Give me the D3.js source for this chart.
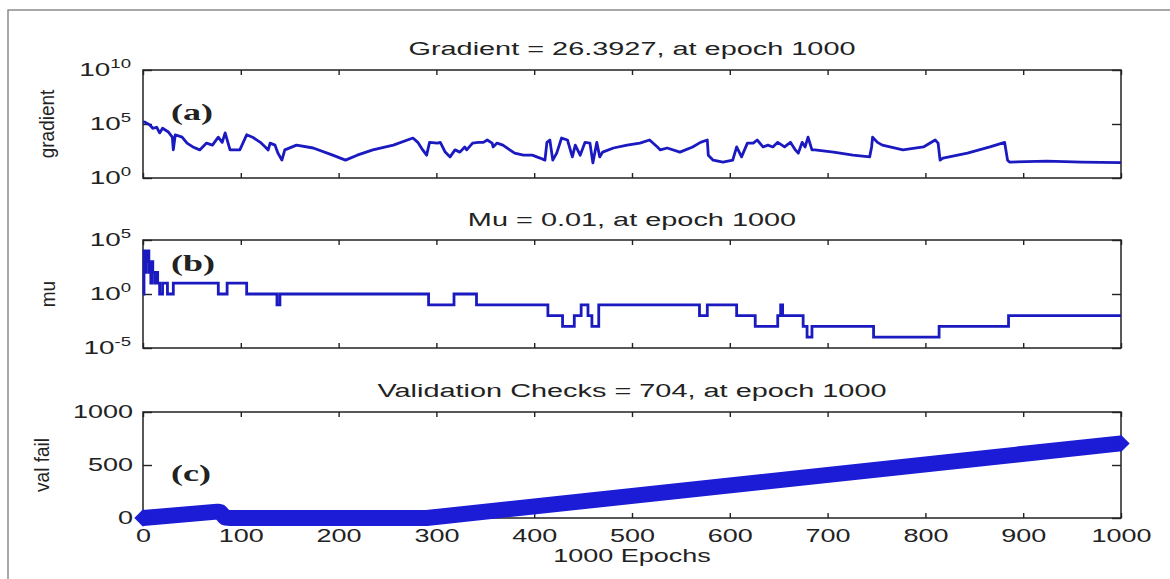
<!DOCTYPE html>
<html>
<head>
<meta charset="utf-8">
<script src="https://cdn.jsdelivr.net/npm/d3@7"></script>
<style>
body {margin:0; background:#fff;}
</style>
</head>
<body>
<script>
var titles = ['Gradient = 26.3927, at epoch 1000', 'Mu = 0.01, at epoch 1000', 'Validation Checks = 704, at epoch 1000'];
var yNames = ['gradient', 'mu', 'val fail'];
var tags = ['(a)', '(b)', '(c)'];
var xName = '1000 Epochs';
var xTicks = [0,100,200,300,400,500,600,700,800,900,1000];
var gradTicks = [1, 1e5, 1e10];
var muTicks = [1e-5, 1, 1e5];
var valTicks = [0, 500, 1000];

// [epoch, gradient]
var gradData = [[0,1.6e5],[2,1.5e5],[7,8e4],[10,4e4],[14,5e4],[17,1.5e4],[20,4e4],[26,1.8e4],[30,6e3],[31,400],[33,1e4],
	[40,6e3],[45,1.7e3],[51,750],[58,400],[65,1.7e3],[71,1.1e3],[77,6e3],[81,2e3],[84,1.5e4],[87,1.7e3],[89,400],[99,400],
	[106,1e4],[112,6e3],[120,2e3],[125,750],[128,400],[130,1.7e3],[135,1.1e3],[138,200],[142,45],[145,400],[157,1.1e3],
	[174,600],[194,130],[207,45],[219,130],[235,400],[256,1.1e3],[276,5e3],[281,2e3],[286,400],[290,130],[293,2e3],
	[301,1.7e3],[304,2e3],[309,250],[314,90],[319,400],[324,250],[329,750],[331,400],[337,1.7e3],[343,2e3],[348,2e3],
	[352,3.3e3],[357,1.7e3],[358,750],[362,1.7e3],[368,1.1e3],[375,400],[380,200],[389,130],[398,130],[406,70],[411,45],
	[413,2e3],[416,3.3e3],[419,45],[423,200],[428,5e3],[434,3.3e3],[439,90],[442,1.1e3],[447,130],[452,2e3],[457,1.7e3],
	[460,25],[464,2e3],[467,90],[470,250],[481,600],[495,1.1e3],[508,1.7e3],[518,3.3e3],[526,750],[529,400],[536,600],
	[549,250],[562,750],[570,2e3],[577,3.3e3],[578,130],[583,45],[593,30],[603,45],[607,750],[612,90],[618,1.7e3],
	[624,1.7e3],[628,3.3e3],[634,750],[639,1.1e3],[644,750],[649,2e3],[656,750],[662,2e3],[667,400],[670,200],[674,2e3],
	[677,750],[680,6e3],[684,400],[687,400],[706,250],[726,130],[743,90],[745,750],[746,6e3],[751,2e3],[756,1.1e3],
	[777,400],[798,750],[810,3.3e3],[813,1.7e3],[815,45],[818,70],[843,200],[866,750],[881,2e3],[884,45],[886,30],
	[924,37],[960,30],[1000,26.39]];

// [epoch, mu] where mu changes
var muData = [[0,1],[1,1e4],[2,100],[3,1e4],[4,1e3],[5,1e4],[6,100],[7,1e3],[8,10],[9,1e3],[10,100],[12,10],[14,100],
	[15,10],[17,1],[20,10],[25,1],[31,10],[77,1],[86,10],[106,1],[137,0.1],[140,1],[292,0.1],[318,1],[341,0.1],
	[414,0.01],[429,0.001],[441,0.01],[448,0.1],[455,0.01],[459,0.001],[466,0.1],[569,0.01],[577,0.1],[607,0.01],
	[626,0.001],[649,0.01],[652,0.1],[654,0.01],[675,0.001],[679,1e-4],[684,0.001],[747,1e-4],[814,0.001],[885,0.01],
	[1000,0.01]];

// [epoch, validation fails]
var valData = [[0,0],[76,60],[79,55],[84,5],[90,0],[290,0],[1000,704]];

var svg = d3.select('body').append('svg')
	.attr('width',1170)
	.attr('height',579);

svg.append('rect')
	.attr('x',8).attr('y',10)
	.attr('width',1200).attr('height',600)
	.attr('fill','none')
	.attr('stroke','#8c8c8c')
	.attr('stroke-width',1.5);

var x = d3.scaleLinear().domain([0,1000]).range([143,1121]);
var yGrad = d3.scaleLog().domain([1,1e10]).range([178,70]);
var yMu = d3.scaleLog().domain([1e-5,1e5]).range([348,240]);
var yVal = d3.scaleLinear().domain([0,1000]).range([518,412]);

var panels = [yGrad, yMu, yVal];
var yTickSets = [gradTicks, muTicks, valTicks];
var titleY = [55, 226, 397];
var nameX = [54, 55, 49];
var tagY = [120, 271, 481];
var sx = 1.5;   // the picture is wide, stretch the text sideways

function txt(px, py, str, size, anchor, scale) {
	return svg.append('text')
		.attr('transform','translate('+px+','+py+') scale('+scale+',1)')
		.attr('text-anchor',anchor)
		.attr('font-family','"Liberation Sans", Arial, sans-serif')
		.attr('font-size',size+'px')
		.attr('fill','#222')
		.text(str);
}

function styleAxis(g) {
	g.select('.domain').remove();
	g.style('color','#222');
	g.selectAll('line').attr('stroke-width',1.4);
}

panels.forEach(function (y, i) {
	var top = y.range()[1], bottom = y.range()[0];

	svg.append('rect')
		.attr('x',x(0)).attr('y',top)
		.attr('width',x(1000)-x(0)).attr('height',bottom-top)
		.attr('fill','none')
		.attr('stroke','#222')
		.attr('stroke-width',1.5);

	var gb = svg.append('g')
		.attr('transform','translate(0,'+bottom+')')
		.call(d3.axisBottom(x).tickValues(xTicks).tickSizeInner(-5).tickSizeOuter(0)
			.tickFormat(i == 2 ? d3.format('d') : ''));
	styleAxis(gb);
	gb.selectAll('text')
		.attr('y',24).attr('dy',null)
		.attr('transform','scale('+sx+',1)')
		.attr('font-size','18px')
		.attr('font-family','"Liberation Sans", Arial, sans-serif')
		.attr('fill','#222');

	styleAxis(svg.append('g')
		.attr('transform','translate(0,'+top+')')
		.call(d3.axisTop(x).tickValues(xTicks).tickSizeInner(-5).tickSizeOuter(0).tickFormat('')));
	styleAxis(svg.append('g')
		.attr('transform','translate('+x(0)+',0)')
		.call(d3.axisLeft(y).tickValues(yTickSets[i]).tickSizeInner(-9).tickSizeOuter(0).tickFormat('')));
	styleAxis(svg.append('g')
		.attr('transform','translate('+x(1000)+',0)')
		.call(d3.axisRight(y).tickValues(yTickSets[i]).tickSizeInner(-9).tickSizeOuter(0).tickFormat('')));

	txt(632, titleY[i], titles[i], 19, 'middle', 1.52);

	svg.append('text')
		.attr('transform','translate('+nameX[i]+','+((top+bottom)/2)+') scale(1.1,1) rotate(-90)')
		.attr('text-anchor','middle')
		.attr('font-family','"Liberation Sans", Arial, sans-serif')
		.attr('font-size','19px')
		.attr('fill','#222')
		.text(yNames[i]);

	svg.append('text')
		.attr('transform','translate(171,'+tagY[i]+') scale('+sx+',1)')
		.attr('font-family','"Liberation Serif", "Times New Roman", serif')
		.attr('font-weight','bold')
		.attr('font-size','24px')
		.attr('fill','#222')
		.text(tags[i]);
});

// log tick labels with superscripts
[[yGrad, gradTicks], [yMu, muTicks]].forEach(function (p) {
	p[1].forEach(function (v) {
		var t = txt(131, p[0](v)+6, '10', 18, 'end', 1.55);
		t.append('tspan')
			.attr('dy',-8)
			.attr('font-size','12px')
			.text(Math.round(Math.log10(v)));
	});
});

valTicks.forEach(function (v) {
	txt(133, yVal(v)+6, String(v), 18, 'end', sx);
});

txt(632, 562, xName, 18, 'middle', sx);

svg.append('path')
	.datum(gradData)
	.attr('d', d3.line().x(function (d) {return x(d[0]);}).y(function (d) {return yGrad(d[1]);}))
	.attr('fill','none')
	.attr('stroke','#1a1ac0')
	.attr('stroke-width',2.8)
	.attr('stroke-linejoin','round');

svg.append('path')
	.datum(muData)
	.attr('d', d3.line().curve(d3.curveStepAfter).x(function (d) {return x(d[0]);}).y(function (d) {return yMu(d[1]);}))
	.attr('fill','none')
	.attr('stroke','#1a1ac0')
	.attr('stroke-width',2.8);

svg.append('path')
	.datum(valData)
	.attr('d', d3.line().x(function (d) {return x(d[0]);}).y(function (d) {return yVal(d[1]);}))
	.attr('fill','none')
	.attr('stroke','#1c1cd6')
	.attr('stroke-width',16)
	.attr('stroke-linejoin','round');

svg.selectAll('.valEnd').data([valData[0], valData[valData.length-1]]).enter()
	.append('path')
	.attr('class','valEnd')
	.attr('d', d3.symbol().type(d3.symbolSquare).size(150))
	.attr('transform', function (d) {return 'translate('+x(d[0])+','+yVal(d[1])+') rotate(45)';})
	.attr('fill','#1c1cd6');
</script>
</body>
</html>
